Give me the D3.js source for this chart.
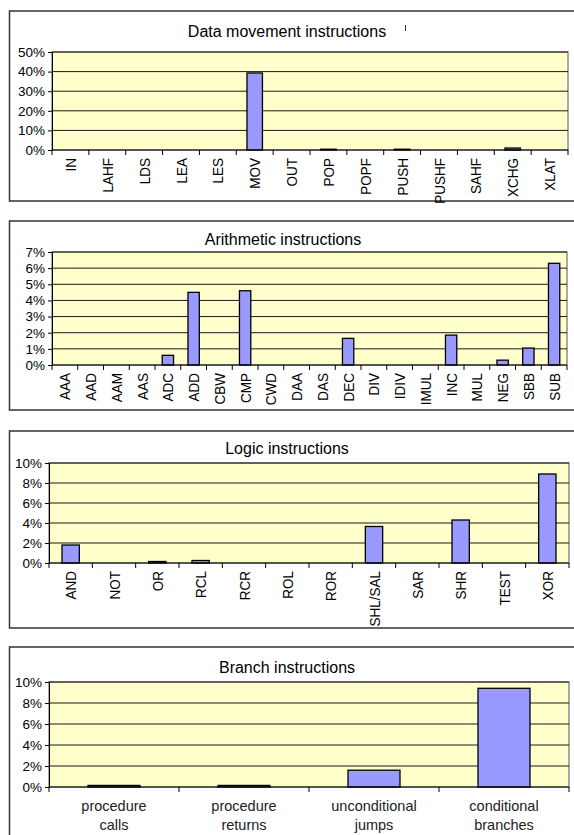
<!DOCTYPE html>
<html lang="en">
<head>
  <meta charset="UTF-8">
  <title>Instruction mix</title>
  <script src="https://d3js.org/d3.v7.min.js"></script>
  <style>
    body { margin: 0; background: #fff; font-family: Arial, "Liberation Sans", sans-serif; }
    svg { display: block; }
    .axis text { font-family: Arial, "Liberation Sans", sans-serif; fill: #000; }
  </style>
</head>
<body>
<svg width="574" height="835"></svg>

<script>
  // Data movement
  const moveCats = ["IN", "LAHF", "LDS", "LEA", "LES", "MOV", "OUT", "POP", "POPF", "PUSH", "PUSHF", "SAHF", "XCHG", "XLAT"];
  const moveVals = [0, 0, 0, 0, 0, 39.3, 0, 0.4, 0, 0.4, 0, 0, 1.0, 0];
  const moveTicks = [0, 10, 20, 30, 40, 50];

  // Arithmetic
  const arithCats = ["AAA", "AAD", "AAM", "AAS", "ADC", "ADD", "CBW", "CMP", "CWD", "DAA", "DAS", "DEC", "DIV", "IDIV", "IMUL", "INC", "MUL", "NEG", "SBB", "SUB"];
  const arithVals = [0, 0, 0, 0, 0.6, 4.5, 0, 4.6, 0, 0, 0, 1.65, 0, 0, 0, 1.85, 0, 0.3, 1.05, 6.3];
  const arithTicks = [0, 1, 2, 3, 4, 5, 6, 7];

  // Logic
  const logicCats = ["AND", "NOT", "OR", "RCL", "RCR", "ROL", "ROR", "SHL/SAL", "SAR", "SHR", "TEST", "XOR"];
  const logicVals = [1.8, 0, 0.15, 0.25, 0, 0, 0, 3.65, 0, 4.3, 0, 8.9];
  const logicTicks = [0, 2, 4, 6, 8, 10];

  // Branch
  const branchCats = ["procedure calls", "procedure returns", "unconditional jumps", "conditional branches"];
  const branchVals = [0.15, 0.15, 1.6, 9.4];
  const branchTicks = [0, 2, 4, 6, 8, 10];

  const svg = d3.select("svg");

  function panel(opt) {
    const g = svg.append("g");

    // outer frame
    g.append("rect")
      .attr("x", 9.5).attr("y", opt.box[0])
      .attr("width", 570).attr("height", opt.box[1] - opt.box[0])
      .attr("fill", "#fff").attr("stroke", "#333").attr("stroke-width", 1.5);

    g.append("text")
      .attr("x", opt.titleX).attr("y", opt.titleY)
      .attr("text-anchor", "middle")
      .attr("font-size", 16)
      .text(opt.title);

    const x = d3.scaleBand()
      .domain(opt.cats)
      .range([opt.left, opt.right])
      .paddingInner(0).paddingOuter(0);

    const y = d3.scaleLinear()
      .domain([0, d3.max(opt.ticks)])
      .range([opt.bottom, opt.top]);

    // plot area
    g.append("rect")
      .attr("x", opt.left).attr("y", opt.top)
      .attr("width", opt.right - opt.left).attr("height", opt.bottom - opt.top)
      .attr("fill", "#ffffcc").attr("stroke", "#8c8c8c").attr("stroke-width", 1.5);

    // gridlines
    g.append("g")
      .selectAll("line")
      .data(opt.ticks.filter(t => t > 0))
      .join("line")
        .attr("x1", opt.left).attr("x2", opt.right)
        .attr("y1", d => y(d)).attr("y2", d => y(d))
        .attr("stroke", "#1a1a1a").attr("stroke-width", 1);

    // bars
    const data = opt.cats.map((c, i) => ({ cat: c, v: opt.vals[i] })).filter(d => d.v > 0);
    const bw = x.bandwidth() * opt.barFrac;
    g.append("g")
      .selectAll("rect")
      .data(data)
      .join("rect")
        .attr("x", d => x(d.cat) + (x.bandwidth() - bw) / 2)
        .attr("y", d => y(d.v))
        .attr("width", bw)
        .attr("height", d => y(0) - y(d.v))
        .attr("fill", "#9999ff")
        .attr("stroke", "#000").attr("stroke-width", 1.3);

    // y-axis
    const ya = g.append("g")
      .attr("class", "axis")
      .attr("transform", `translate(${opt.left},0)`)
      .call(d3.axisLeft(y).tickValues(opt.ticks).tickSize(4).tickPadding(3).tickFormat(d => d + "%"));
    ya.select(".domain").attr("stroke", "#000");
    ya.selectAll(".tick line").attr("stroke", "#000");
    ya.selectAll("text").attr("font-size", 13.5);

    // x-axis line and ticks at category boundaries
    g.append("line")
      .attr("x1", opt.left).attr("x2", opt.right)
      .attr("y1", y(0)).attr("y2", y(0))
      .attr("stroke", "#000").attr("stroke-width", 1.2);
    const bounds = opt.cats.map(c => x(c)).concat([opt.right]);
    g.append("g")
      .selectAll("line")
      .data(bounds)
      .join("line")
        .attr("x1", d => d).attr("x2", d => d)
        .attr("y1", y(0)).attr("y2", y(0) + 5)
        .attr("stroke", "#000");

    // category labels
    if (opt.rotate) {
      g.append("g")
        .selectAll("text")
        .data(opt.cats)
        .join("text")
          .attr("transform", d => `translate(${x(d) + x.bandwidth() / 2 + 5.5},${y(0) + 8}) rotate(-90) scale(1,1.15)`)
          .attr("text-anchor", "end")
          .attr("font-size", 13.5)
          .text(d => d);
    } else {
      const lab = g.append("g")
        .selectAll("text")
        .data(opt.cats)
        .join("text")
          .attr("x", d => x(d) + x.bandwidth() / 2)
          .attr("y", y(0) + 24)
          .attr("text-anchor", "middle")
          .attr("font-size", 14.5)
          .attr("fill", "#222");
      lab.append("tspan").text(d => d.split(" ")[0]);
      lab.append("tspan")
        .attr("x", d => x(d) + x.bandwidth() / 2)
        .attr("dy", 19)
        .text(d => d.split(" ")[1]);
    }
    return g;
  }

  const p1 = panel({
    title: "Data movement instructions", titleX: 287, titleY: 37,
    box: [11, 201], left: 52, right: 568, top: 52, bottom: 150,
    cats: moveCats, vals: moveVals, ticks: moveTicks, barFrac: 0.42, rotate: true
  });
  // small stray mark to the right of the first title
  p1.append("line")
    .attr("x1", 405.5).attr("x2", 405.5).attr("y1", 25).attr("y2", 31)
    .attr("stroke", "#333").attr("stroke-width", 1);

  panel({
    title: "Arithmetic instructions", titleX: 283, titleY: 245,
    box: [221, 410], left: 52, right: 567, top: 252, bottom: 365,
    cats: arithCats, vals: arithVals, ticks: arithTicks, barFrac: 0.44, rotate: true
  });

  panel({
    title: "Logic instructions", titleX: 287, titleY: 454,
    box: [431, 628], left: 49, right: 569, top: 463, bottom: 563,
    cats: logicCats, vals: logicVals, ticks: logicTicks, barFrac: 0.4, rotate: true
  });

  panel({
    title: "Branch instructions", titleX: 287, titleY: 673,
    box: [647, 845], left: 49, right: 569, top: 682, bottom: 787,
    cats: branchCats, vals: branchVals, ticks: branchTicks, barFrac: 0.4, rotate: false
  });
</script>
</body>
</html>
